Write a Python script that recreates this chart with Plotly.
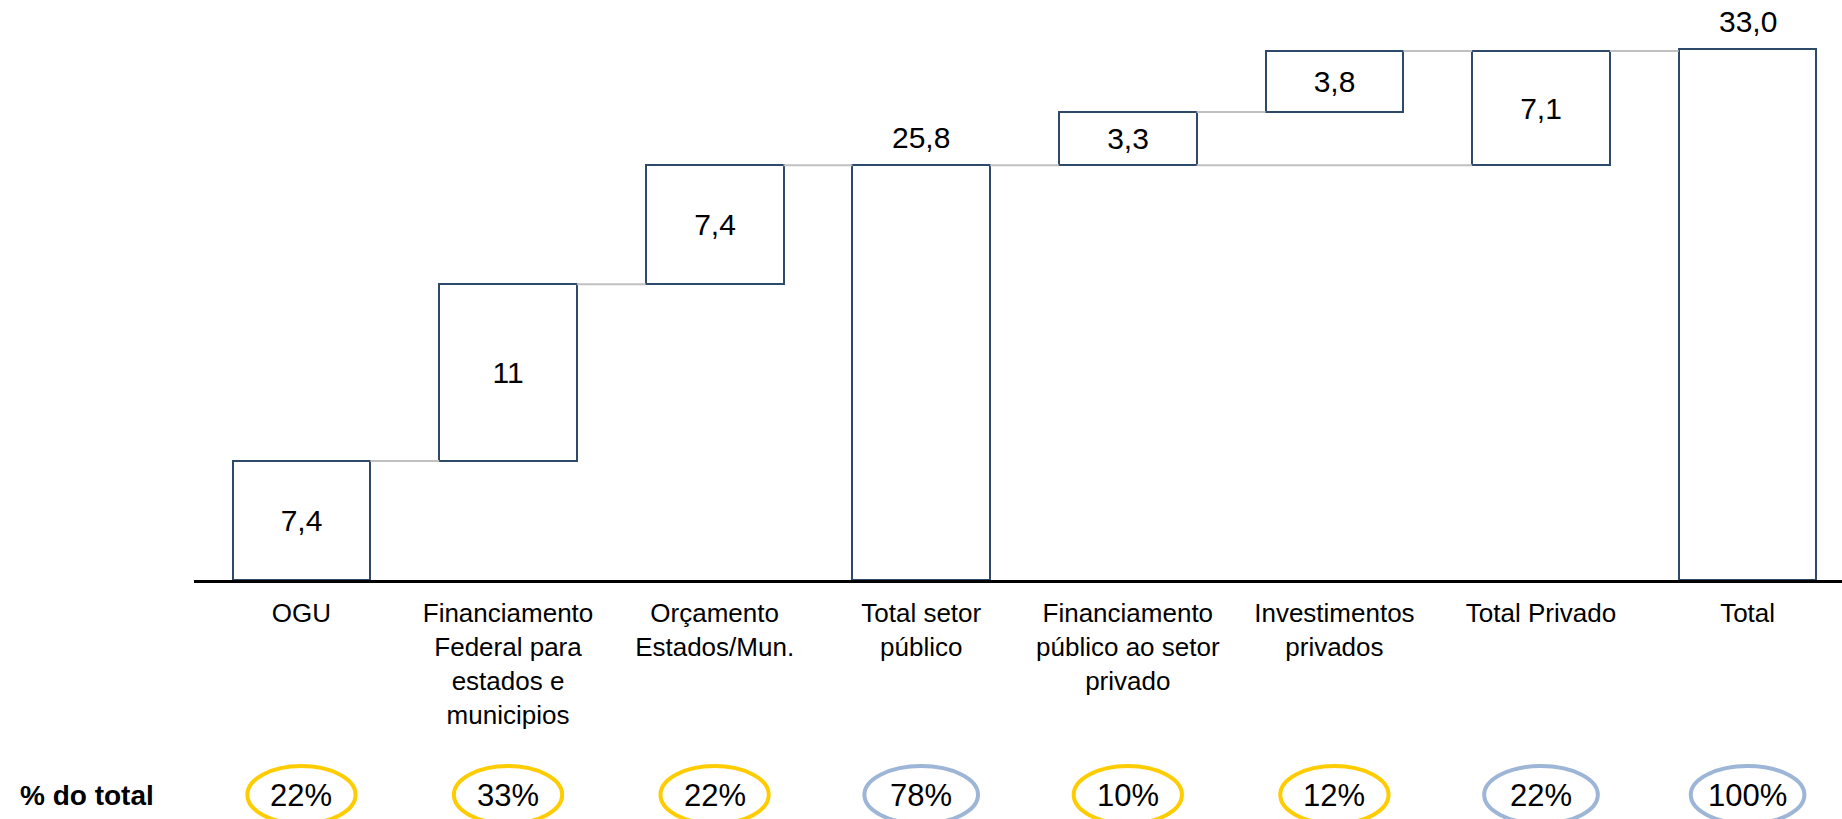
import plotly.graph_objects as go

# ---------------- data ----------------
categories = [
    "OGU",
    "Financiamento<br>Federal para<br>estados e<br>municipios",
    "Orçamento<br>Estados/Mun.",
    "Total setor<br>público",
    "Financiamento<br>público ao setor<br>privado",
    "Investimentos<br>privados",
    "Total Privado",
    "Total",
]
values = [7.4, 11.0, 7.4, 25.8, 3.3, 3.8, 7.1, 33.0]
value_labels = ["7,4", "11", "7,4", "25,8", "3,3", "3,8", "7,1", "33,0"]
measures = ["relative", "relative", "relative", "total",
            "relative", "relative", "subtotal", "total"]
pct_labels = ["22%", "33%", "22%", "78%", "10%", "12%", "22%", "100%"]
row_title = "% do total"

# ---------------- styles ----------------
FONT = "Liberation Sans, Arial, Helvetica, sans-serif"
NAVY = "#2E4A6B"
GRAY = "#C0C0C0"
YELLOW = "#FFCC00"
BLUE = "#9DB5D6"
BAR_W = 0.667
W, H = 1842, 819

# ---------------- compute bar geometry from data ----------------
bases, heights = [], []
running = 0.0
section_start = 0.0
for i, (m, v) in enumerate(zip(measures, values)):
    if m == "relative":
        bases.append(running)
        heights.append(v)
        running += v
    elif m == "total":
        bases.append(0.0)
        heights.append(v)
        running = v
        section_start = v
    else:  # subtotal: floating bar from section start
        bases.append(section_start)
        heights.append(v)
tops = [b + h for b, h in zip(bases, heights)]

xs = list(range(len(categories)))
hw = BAR_W / 2

# connector segments
cx, cy = [], []
for i in range(len(xs) - 1):
    cx += [xs[i] + hw, xs[i + 1] - hw, None]
    cy += [tops[i], tops[i], None]
sec = -1
for i, m in enumerate(measures):
    if m == "total":
        sec = i
    if m == "subtotal" and sec >= 0:
        cx += [xs[sec + 1] + hw, xs[i] - hw, None]
        cy += [bases[i], bases[i], None]

inside_text = [lbl if m != "total" else "" for lbl, m in zip(value_labels, measures)]

fig = go.Figure()
fig.add_trace(go.Scatter(
    x=cx, y=cy, mode="lines",
    line=dict(color=GRAY, width=2),
    hoverinfo="skip", showlegend=False,
))
fig.add_trace(go.Bar(
    x=xs, y=heights, base=bases, width=BAR_W,
    marker=dict(color="white", line=dict(color=NAVY, width=2)),
    text=inside_text, textposition="inside", insidetextanchor="middle",
    textangle=0, constraintext="none",
    insidetextfont=dict(family=FONT, size=30, color="black"),
    hoverinfo="skip", showlegend=False,
))

annotations = []
for i, m in enumerate(measures):
    if m == "total":
        annotations.append(dict(
            x=xs[i], y=tops[i], xref="x", yref="y",
            text=value_labels[i], showarrow=False,
            yanchor="bottom", yshift=9,
            font=dict(family=FONT, size=30, color="black"),
        ))

# percent row
PCT_Y = -0.371
E_Y0, E_Y1 = -0.42, -0.3207
shapes = []
for i, m in enumerate(measures):
    col = YELLOW if m == "relative" else BLUE
    half = 0.262 if m == "relative" else 0.275
    shapes.append(dict(
        type="circle", xref="x", yref="paper",
        x0=xs[i] - half, x1=xs[i] + half, y0=E_Y0, y1=E_Y1,
        line=dict(color=col, width=4), fillcolor="rgba(0,0,0,0)",
    ))
    annotations.append(dict(
        x=xs[i], y=PCT_Y, xref="x", yref="paper",
        text=pct_labels[i], showarrow=False,
        xanchor="center", yanchor="middle",
        font=dict(family=FONT, size=31, color="black"),
    ))
annotations.append(dict(
    x=18 / W, y=PCT_Y, xref="paper", yref="paper",
    text="<b>" + row_title + "</b>", showarrow=False,
    xanchor="left", yanchor="middle",
    font=dict(family=FONT, size=28, color="black"),
))

fig.update_layout(
    width=W, height=H,
    margin=dict(l=0, r=0, t=0, b=239, pad=0),
    paper_bgcolor="white", plot_bgcolor="white",
    font=dict(family=FONT, color="black"),
    showlegend=False,
    bargap=0,
    shapes=shapes,
    annotations=annotations,
    xaxis=dict(
        domain=[194 / W, 1],
        range=[-0.52, 7.457],
        tickvals=xs, ticktext=categories,
        tickfont=dict(family=FONT, size=26, color="black"),
        ticks="", showgrid=False, zeroline=False,
        showline=True, linecolor="black", linewidth=3,
        ticklabelstandoff=8,
        fixedrange=True,
    ),
    yaxis=dict(
        range=[0, 36.07], visible=False, showgrid=False,
        zeroline=False, fixedrange=True,
    ),
)

fig.write_html(
    "out.html",
    config={"displayModeBar": False},
    post_script="document.body.style.margin='0';document.body.style.overflow='hidden';",
)
